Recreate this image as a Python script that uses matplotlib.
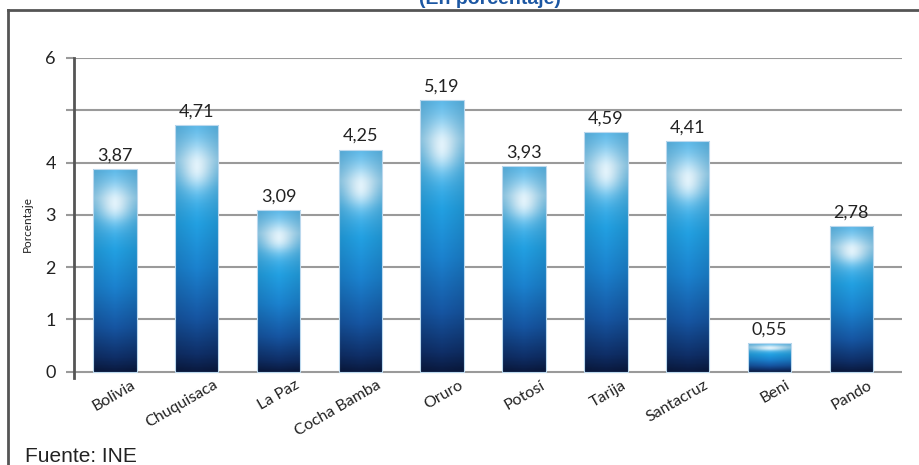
import numpy as np
import matplotlib.pyplot as plt
import matplotlib.transforms as mtrans
from matplotlib.colors import LinearSegmentedColormap
from matplotlib.lines import Line2D

# Datos por departamento (porcentaje)
departamentos = ['Bolivia', 'Chuquisaca', 'La Paz', 'Cocha Bamba', 'Oruro',
                 'Potosí', 'Tarija', 'Santacruz', 'Beni', 'Pando']
valores = [3.87, 4.71, 3.09, 4.25, 5.19, 3.93, 4.59, 4.41, 0.55, 2.78]
yticks = [0, 1, 2, 3, 4, 5, 6]
ytick_labels = ['0', '1', '2', '3', '4', '', '6']

font_num = 'Lato'
grid_col = '#9a9a9a'

fig = plt.figure(figsize=(9.2, 4.65), dpi=100)
ax = fig.add_axes([74/920, (465-378)/465, (902-74)/920, 320/465])

# degradado vertical de cada barra: azul marino abajo, celeste arriba
base = LinearSegmentedColormap.from_list('barra', [
    (0.00, '#0a1a40'), (0.07, '#0f2f68'), (0.22, '#1656a3'),
    (0.42, '#1b82cf'), (0.60, '#22a0e2'), (0.74, '#48b5eb'),
    (0.86, '#8ad0f3'), (1.00, '#5ab8e9')])

ny, nx = 200, 60
t = np.linspace(0, 1, ny)[:, None]
u = np.linspace(0, 1, nx)[None, :]
img = base(np.repeat(t, nx, axis=1))[..., :3]
glow = np.exp(-((t - 0.83) / 0.09)**2) * np.exp(-((u - 0.5) / 0.38)**2)
img = img * (1 - 0.78*glow[..., None]) + 0.78*glow[..., None]
edge = 1 - 0.10*np.abs(u - 0.5)*2
img = np.clip(img * edge[..., None], 0, 1)

ancho = 0.53
x = np.arange(len(departamentos))
bars = ax.bar(x, valores, width=ancho, facecolor='none',
              edgecolor='#bcd9ee', linewidth=0.8, zorder=4)
for b, v in zip(bars, valores):
    x0 = b.get_x()
    im = ax.imshow(img, extent=(x0, x0 + ancho, 0, v), origin='lower',
                   aspect='auto', zorder=3, interpolation='bilinear')
    im.set_clip_path(b)
    ax.annotate(f'{v:.2f}'.replace('.', ','), (x0 + ancho/2, v),
                xytext=(0, 4), textcoords='offset points', ha='center',
                va='bottom', fontsize=13, family=font_num, color='#222222',
                zorder=5)

for yv in yticks:
    ax.axhline(yv, color=grid_col, lw=1.5, zorder=1)

ax.set_xlim(-0.5, 9.62)
ax.set_ylim(-0.12, 6)
ax.set_yticks(yticks)
ax.set_yticklabels(ytick_labels, fontsize=13, family=font_num, color='#222222')
ax.tick_params(axis='y', length=6, width=1.5, color=grid_col, pad=7)
ax.set_xticks(x)
ax.set_xticklabels(departamentos, rotation=30, ha='right',
                   rotation_mode='anchor', fontsize=11.5, family=font_num,
                   color='#222222')
ax.tick_params(axis='x', length=0, pad=0)
off = mtrans.ScaledTranslation(16/100, 0, fig.dpi_scale_trans)
for lbl in ax.get_xticklabels():
    lbl.set_transform(lbl.get_transform() + off)

for s in ['top', 'right', 'bottom']:
    ax.spines[s].set_visible(False)
ax.spines['left'].set_color('#555555')
ax.spines['left'].set_linewidth(2)
ax.spines['left'].set_zorder(6)

ax.set_ylabel('Porcentaje', fontsize=8.5, family=font_num, color='#222222')
ax.yaxis.set_label_coords(-0.050, 0.48)

# marco exterior del recuadro
fig.add_artist(Line2D([8/920, 8/920], [0, 1 - 10/465], color='#555555',
                      lw=2, transform=fig.transFigure))
fig.add_artist(Line2D([8/920, 1], [1 - 10/465, 1 - 10/465], color='#555555',
                      lw=2, transform=fig.transFigure))

fig.text(490/920, 1 - 4/465, '(En porcentaje)', ha='center', va='baseline',
         fontsize=14, fontweight='bold', family='Liberation Sans',
         color='#1c57a3')
fig.text(25/920, 3/465, 'Fuente: INE', ha='left', va='baseline',
         fontsize=15, family='Liberation Sans', color='#222222')

fig.savefig('out.png', dpi=100)
